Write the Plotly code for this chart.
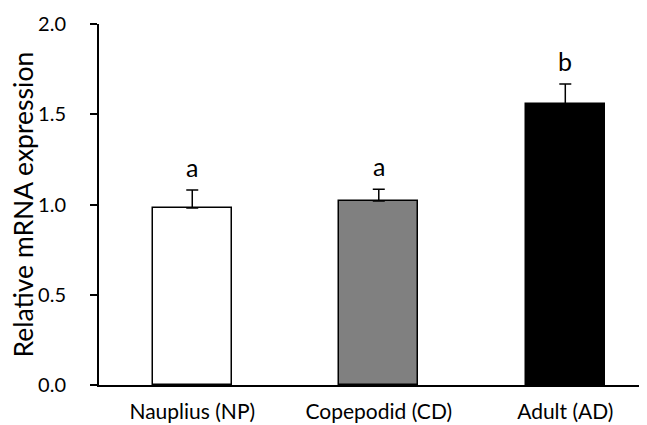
import plotly.graph_objects as go

categories = ["Nauplius (NP)", "Copepodid (CD)", "Adult (AD)"]
means = [0.98, 1.02, 1.555]
errors = [0.10, 0.065, 0.112]
letters = ["a", "a", "b"]
colors = ["#ffffff", "#808080", "#000000"]
yticks = [0.0, 0.5, 1.0, 1.5, 2.0]
ytitle = "Relative mRNA expression"

FONT = "Lato"
x = list(range(len(categories)))

fig = go.Figure()
fig.add_trace(go.Bar(
    x=x, y=means, width=0.424,
    marker=dict(color=colors, line=dict(color="#000000", width=1.5)),
    error_y=dict(type="data", symmetric=False, array=errors,
                 arrayminus=[0] * len(errors),
                 color="#000000", thickness=1.5, width=6),
    showlegend=False, hoverinfo="skip",
))

for xi, m, e, t in zip(x, means, errors, letters):
    fig.add_annotation(x=xi, y=m + e, text=t, showarrow=False,
                       yanchor="bottom", yshift=6,
                       font=dict(family=FONT, size=25, color="#000000"))

fig.add_annotation(xref="paper", yref="paper", x=0, y=0.5, xshift=-77,
                   xanchor="center", yanchor="middle", textangle=-90,
                   text=ytitle, showarrow=False,
                   font=dict(family=FONT, size=26.5, color="#000000"))

fig.update_layout(
    width=639, height=417,
    margin=dict(l=91, r=0, t=16, b=40),
    paper_bgcolor="white", plot_bgcolor="white",
    font=dict(family=FONT, color="#000000"),
    bargap=0,
)
fig.update_xaxes(
    range=[-0.5, 2.438], tickvals=x, ticktext=categories,
    showline=True, linecolor="#000000", linewidth=2, automargin=False,
    ticks="", showgrid=False, zeroline=False, ticklabelstandoff=7,
    tickfont=dict(family=FONT, size=21, color="#000000"),
)
fig.update_yaxes(
    range=[0, 2.0], tickvals=yticks, ticktext=[f"{v:.1f}" for v in yticks],
    showline=True, linecolor="#000000", linewidth=2, automargin=False,
    ticks="outside", ticklen=7, tickwidth=2, tickcolor="#000000",
    showgrid=False, zeroline=False, ticklabelstandoff=20,
    tickfont=dict(family=FONT, size=20, color="#000000"),
)

fig.write_html("out.html")
